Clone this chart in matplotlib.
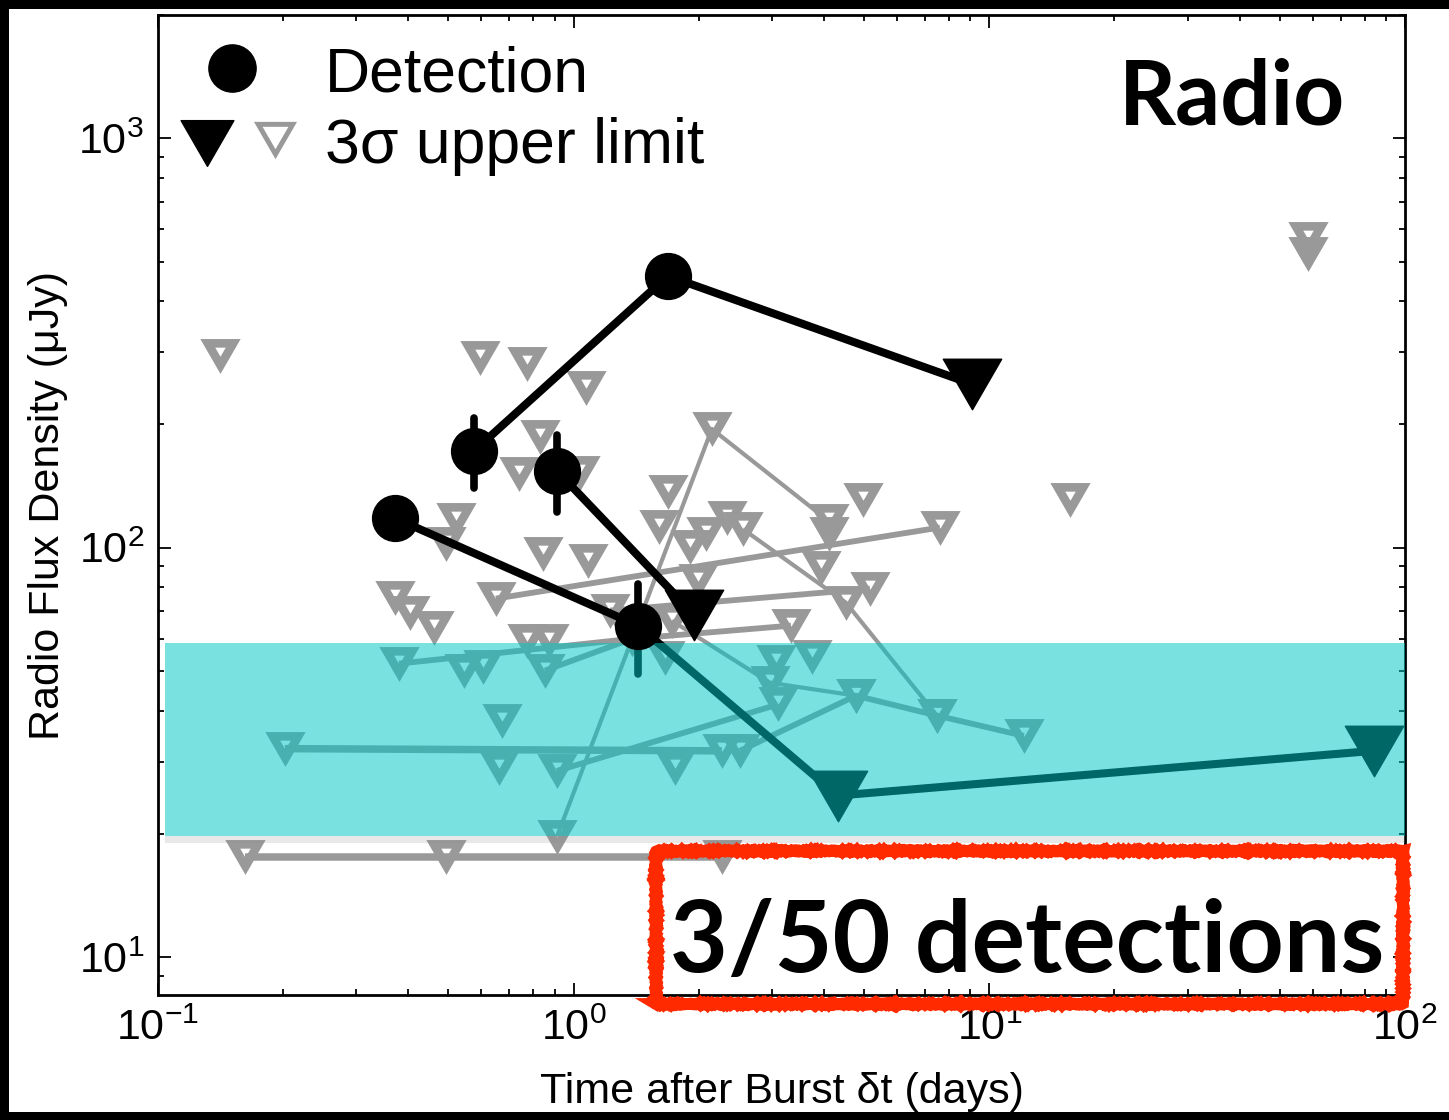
import matplotlib
matplotlib.use("Agg")
import matplotlib.pyplot as plt
from matplotlib.markers import MarkerStyle
from matplotlib.path import Path
from matplotlib.patches import Rectangle

plt.rcParams["font.family"] = ["Liberation Sans", "DejaVu Sans"]
plt.rcParams["mathtext.fontset"] = "custom"
plt.rcParams["mathtext.rm"] = "Liberation Sans"
plt.rcParams["mathtext.default"] = "regular"

# --- data (time in days, flux density in uJy) ---

# bursts with a radio detection: circle = detection, triangle = 3 sigma limit
det_tracks_t = [[0.575, 1.686, 9.08], [0.912, 1.95], [0.372, 1.428, 4.32, 84.1]]
det_tracks_f = [[172, 461, 251], [154, 68.6], [118, 64.5, 24.8, 31.9]]
det_tracks_flag = [[1, 1, 0], [1, 0], [1, 1, 0, 0]]

errbar_t = [0.575, 0.912, 1.428]
errbar_lo = [140, 122, 49.2]
errbar_hi = [207, 188, 81.6]

# non-detected bursts followed over several epochs
heavy_tracks_t = [[0.202, 2.273], [0.162, 0.493, 2.273]]
heavy_tracks_f = [[32.3, 31.9], [17.6, 17.6, 17.6]]

medium_tracks_t = [
    [0.380, 1.381, 3.332],
    [0.853, 1.381],
    [1.223, 5.163],
    [0.650, 7.607],
    [0.912, 3.100],
    [2.512, 4.777, 7.482, 12.11],
]
medium_tracks_f = [
    [52.1, 59.9, 64.5],
    [50.1, 59.9],
    [70.2, 79.4],
    [75.1, 112],
    [28.5, 41.4],
    [31.9, 43.5, 38.9, 34.7],
]

thin_tracks_t = [[0.912, 2.151, 4.113], [1.724, 2.966, 4.777], [2.555, 4.519, 7.482]]
thin_tracks_f = [[19.7, 195, 116], [66.3, 46.8, 43.5], [111, 73.4, 38.9]]

# single-epoch upper limits
single_t = [0.141, 0.595, 0.772, 1.071, 0.830, 0.739, 1.036, 0.521, 0.493, 0.844,
            1.082, 0.372, 0.404, 0.461, 0.772, 0.872, 0.545, 0.605, 0.672, 0.661,
            1.686, 1.604, 1.905, 2.081, 2.337, 1.991, 4.966, 3.935, 4.113, 3.744,
            3.066, 1.658, 1.753, 15.63, 58.4, 58.4, 9.39]
single_f = [294, 291, 281, 246, 186, 151, 152, 117, 102, 96.7,
            93.0, 75.5, 69.4, 63.8, 59.3, 59.3, 50.1, 51.2, 37.8, 29.0,
            137, 112.5, 100.6, 108, 118, 83.1, 131, 89.4, 108, 54.2,
            52.7, 53.9, 29.0, 131, 568, 522, 256]

# shaded region
band_t = [0.104, 100]
band_lo = 19.8
band_hi = 58.6


def tri_path(hole=0.0):
    # downward equilateral triangle centred on its bbox, optional hole
    outer = [(-1, 0.866), (1, 0.866), (0, -0.866)]
    verts = outer + [outer[0]]
    codes = [Path.MOVETO, Path.LINETO, Path.LINETO, Path.CLOSEPOLY]
    if hole > 0:
        cy = 0.2887
        inner = [(x * hole, cy + (y - cy) * hole) for x, y in outer]
        inner = [inner[0], inner[2], inner[1]]
        verts += inner + [inner[0]]
        codes += codes
    return MarkerStyle(Path(verts, codes), joinstyle="miter")


fig = plt.figure(figsize=(14.49, 11.2), dpi=100, facecolor="white")
# black frame around the picture (left, top, bottom)
for r in [(0, 0, 9 / 1449, 1), (0, 1 - 9 / 1120, 1, 9 / 1120), (0, 0, 1, 8 / 1120)]:
    fig.patches.append(Rectangle(r[:2], r[2], r[3], transform=fig.transFigure,
                                 color="black", lw=0, zorder=20))
ax = fig.add_axes([0.1090, 0.1116, 0.8606, 0.8750])

tri = tri_path()
tri_open = tri_path(0.26)
gray = "#999999"
hollow = dict(marker=tri_open, ms=29, mfc=gray, mec="none", mew=0, color=gray,
              solid_capstyle="butt", zorder=2)

for t, f in zip(heavy_tracks_t, heavy_tracks_f):
    ax.plot(t, f, lw=5.4, **hollow)
for t, f in zip(medium_tracks_t, medium_tracks_f):
    ax.plot(t, f, lw=4.2, **hollow)
for t, f in zip(thin_tracks_t, thin_tracks_f):
    ax.plot(t, f, lw=3, **hollow)
ax.plot(single_t, single_f, ls="none", **hollow)

# detected bursts
for t, f, flag in zip(det_tracks_t, det_tracks_f, det_tracks_flag):
    ax.plot(t, f, color="black", lw=5.8, zorder=3)
    lim_t = [x for x, d in zip(t, flag) if not d]
    lim_f = [y for y, d in zip(f, flag) if not d]
    ax.plot(lim_t, lim_f, ls="none", marker=tri, ms=42, color="black", mew=1, zorder=3)
    dt = [x for x, d in zip(t, flag) if d]
    df = [y for y, d in zip(f, flag) if d]
    ax.plot(dt, df, ls="none", marker="o", ms=33, color="black", zorder=5)
ax.vlines(errbar_t, errbar_lo, errbar_hi, color="black", lw=5.5,
          capstyle="round", zorder=3)

# sensitivity band
ax.fill_between(band_t, band_lo, band_hi, color=(0, 0.78, 0.78), alpha=0.52,
                lw=0, zorder=4)
ax.fill_between(band_t, 19.0, band_lo, color="0.55", alpha=0.2, lw=0, zorder=4)

ax.set_xscale("log")
ax.set_yscale("log")
ax.set_xlim(0.1, 100)
ax.set_ylim(8.08, 2000)

ax.tick_params(which="both", direction="in", top=True, right=True, width=1.3,
               labelsize=31)
ax.tick_params(which="major", length=9, pad=10)
ax.tick_params(which="minor", length=4.5)
for s in ax.spines.values():
    s.set_linewidth(2)

ax.set_xlabel("Time after Burst \u03b4t (days)", fontsize=31)
ax.set_ylabel("Radio Flux Density (\u03bcJy)", fontsize=31)
ax.xaxis.set_label_coords(0.5, -0.079)
ax.yaxis.set_label_coords(-0.072, 0.5)

# legend drawn by hand
ax.plot([0.0593], [0.9459], marker="o", ms=34, color="black",
        transform=ax.transAxes, clip_on=False, zorder=6)
ax.plot([0.0393], [0.8694], marker=tri, ms=38, color="black", mew=1,
        transform=ax.transAxes, clip_on=False, zorder=6)
ax.plot([0.0938], [0.8724], marker=tri_path(0.6), ms=31, mfc=gray, mec="none",
        mew=0, transform=ax.transAxes, clip_on=False, zorder=6)
fig.text(0.2243, 0.9179, "Detection", fontsize=45)
fig.text(0.2243, 0.8545, "3\u03c3 upper limit", fontsize=45)

fig.text(0.9282, 0.8884, "Radio", fontsize=64, fontweight="bold",
         family=["Lato", "DejaVu Sans"], ha="right")

box = Rectangle((0.4527, 0.1036), 0.5155, 0.1366, transform=fig.transFigure,
                fill=False, edgecolor="#ff2a00", lw=8.5, zorder=10)
box.set_sketch_params(scale=0.6, length=2, randomness=2)
fig.patches.append(box)
fig.text(0.7088, 0.1321, "3/50 detections", fontsize=72, fontweight="bold",
         family=["Lato", "DejaVu Sans"], ha="center", zorder=11)

fig.savefig("out.png", dpi=100)
